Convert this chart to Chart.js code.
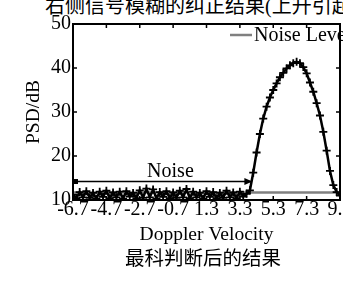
<!DOCTYPE html>
<html>
<head>
<meta charset="utf-8">
<script src="https://cdn.jsdelivr.net/npm/chart.js@4.4.1/dist/chart.umd.min.js"></script>
<style>
    html, body { margin: 0; padding: 0; background: #fff; width: 343px; height: 282px; overflow: hidden; }
    #wrap { position: absolute; left: 0; top: 0; width: 360px; height: 282px; }
    .heading { position: absolute; left: 45px; top: -4px; font-size: 20px; line-height: 20px; white-space: nowrap;
               font-family: "Liberation Serif", "Noto Sans CJK SC", serif; color: #000; }
    .caption { position: absolute; left: 125px; top: 247px; font-size: 19.5px; line-height: 20px; white-space: nowrap;
               font-family: "Noto Sans CJK SC", sans-serif; color: #000; }
</style>
</head>
<body>
<div class="heading">右侧信号模糊的纠正结果(上升引起</div>
<div id="wrap"><canvas id="myChart"></canvas></div>
<div class="caption">最科判断后的结果</div>
<script>
// Doppler velocity samples (x) and measured PSD in dB (y)
const velocity = [
    -6.7, -6.5, -6.3, -6.1, -5.9, -5.7, -5.5, -5.3, -5.1, -4.9,
    -4.7, -4.5, -4.3, -4.1, -3.9, -3.7, -3.5, -3.3, -3.1, -2.9,
    -2.7, -2.5, -2.3, -2.1, -1.9, -1.7, -1.5, -1.3, -1.1, -0.9,
    -0.7, -0.5, -0.3, -0.1, 0.1, 0.3, 0.5, 0.7, 0.9, 1.1,
    1.3, 1.5, 1.7, 1.9, 2.1, 2.3, 2.5, 2.7, 2.9, 3.1,
    3.3, 3.5, 3.7, 3.9, 4.1, 4.3, 4.5, 4.7, 4.9, 5.1,
    5.3, 5.5, 5.7, 5.9, 6.1, 6.3, 6.5, 6.7, 6.9, 7.1,
    7.3, 7.5, 7.7, 7.9, 8.1, 8.3, 8.5, 8.7, 8.9, 9.1,
    9.3
];
const psd = [
    11.2, 10.4, 11.8, 10.6, 12.0, 10.5, 11.6, 10.3, 11.9, 10.7,
    12.1, 10.4, 11.7, 10.6, 11.9, 10.3, 12.0, 10.8, 11.6, 10.4,
    12.2, 10.5, 12.6, 10.6, 12.4, 10.3, 11.8, 10.7, 12.0, 10.4,
    11.7, 10.5, 12.1, 10.6, 12.5, 10.4, 11.9, 10.6, 11.6, 10.3,
    12.0, 10.7, 11.8, 10.4, 11.6, 10.5, 12.1, 10.6, 11.7, 10.4,
    11.9, 10.8, 11.4, 12.2, 16.2, 20.8, 25.0, 28.5, 31.2, 33.3,
    35.0, 36.5, 37.9, 38.9, 39.9, 40.6, 41.1, 41.4, 41.1, 40.2,
    38.8, 36.7, 34.6, 32.0, 29.2, 25.5, 21.2, 16.6, 13.4, 11.8,
    11.0
];

// Noise level line and noise-region arrow
const noiseLevel = 11.7;
const noiseArrowFrom = -6.58;
const noiseArrowTo = 3.93;
const noiseArrowY = 14.2;
const noiseLabelX = -0.86;

// Axis ticks
const xMin = -6.7, xMax = 9.3;
const xTicks = [-6.7, -4.7, -2.7, -0.7, 1.3, 3.3, 5.3, 7.3, 9.3];
const yTicks = [10, 20, 30, 40, 50];

const serif = "'Liberation Serif', 'Times New Roman', serif";

// Frame, inward ticks, noise arrow and legend
const decorations = {
    id: "decorations",
    afterDatasetsDraw(chart) {
        const { ctx, chartArea: a, scales } = chart;
        const x = scales.x, y = scales.y;
        ctx.save();
        ctx.strokeStyle = "#000";
        ctx.lineWidth = 1.5;
        ctx.beginPath();
        xTicks.forEach(v => {
            const px = x.getPixelForValue(v);
            ctx.moveTo(px, a.bottom); ctx.lineTo(px, a.bottom - 4);
            ctx.moveTo(px, a.top); ctx.lineTo(px, a.top + 4);
        });
        yTicks.forEach(v => {
            const py = y.getPixelForValue(v);
            ctx.moveTo(a.left, py); ctx.lineTo(a.left + 4, py);
            ctx.moveTo(a.right, py); ctx.lineTo(a.right - 4, py);
        });
        ctx.stroke();

        ctx.lineWidth = 2;
        ctx.strokeRect(a.left, a.top, a.right - a.left, a.bottom - a.top);

        // noise arrow
        const ay = y.getPixelForValue(noiseArrowY);
        const ax0 = x.getPixelForValue(noiseArrowFrom);
        const ax1 = x.getPixelForValue(noiseArrowTo);
        ctx.lineWidth = 1.5;
        ctx.beginPath();
        ctx.moveTo(ax0, ay);
        ctx.lineTo(ax1, ay);
        ctx.stroke();
        ctx.fillStyle = "#000";
        ctx.fillRect(ax0 - 2, ay - 2.5, 5, 5);
        ctx.beginPath();
        ctx.moveTo(ax1 + 2, ay);
        ctx.lineTo(ax1 - 6, ay - 3.5);
        ctx.lineTo(ax1 - 6, ay + 3.5);
        ctx.closePath();
        ctx.fill();

        ctx.font = "20px " + serif;
        ctx.textAlign = "center";
        ctx.textBaseline = "middle";
        ctx.fillText("Noise", x.getPixelForValue(noiseLabelX), ay - 10);

        // legend
        ctx.strokeStyle = "#808080";
        ctx.lineWidth = 2.5;
        ctx.beginPath();
        ctx.moveTo(a.right - 110, a.top + 11);
        ctx.lineTo(a.right - 88, a.top + 11);
        ctx.stroke();
        ctx.textAlign = "left";
        ctx.fillText("Noise Level", a.right - 86, a.top + 12);
        ctx.restore();
    }
};

let chartInstance = null;

function initChart() {
    const ctx = document.getElementById("myChart");
    if (!ctx) return;

    const spectrum = velocity.map((v, i) => ({ x: v, y: psd[i] }));
    const level = [{ x: xMin, y: noiseLevel }, { x: xMax, y: noiseLevel }];

    chartInstance = new Chart(ctx, {
        type: "line",
        data: {
            datasets: [
                {
                    label: "PSD",
                    data: spectrum,
                    borderColor: "#000",
                    borderWidth: 2.5,
                    pointStyle: "cross",
                    pointRadius: 4,
                    pointBorderWidth: 1.8,
                    pointBorderColor: "#000",
                    tension: 0,
                },
                {
                    label: "Noise Level",
                    data: level,
                    borderColor: "#808080",
                    borderWidth: 2.5,
                    pointRadius: 0,
                },
            ],
        },
        options: {
            responsive: true,
            maintainAspectRatio: false,
            animation: false,
            devicePixelRatio: 1,
            layout: { padding: { top: 24, right: 20, left: 0, bottom: 0 } },
            plugins: {
                legend: { display: false },
                tooltip: { enabled: false },
            },
            scales: {
                x: {
                    type: "linear",
                    min: xMin,
                    max: xMax,
                    grid: { display: false, drawTicks: false },
                    border: { display: false },
                    afterBuildTicks: (scale) => {
                        scale.ticks = xTicks.map(v => ({ value: v }));
                    },
                    afterFit: (scale) => { scale.height = 82; },
                    ticks: {
                        autoSkip: false,
                        maxRotation: 0,
                        padding: -2,
                        color: "#000",
                        font: { family: serif, size: 20 },
                        callback: (v) => Number(v).toFixed(1),
                    },
                    title: {
                        display: true,
                        text: "Doppler Velocity",
                        color: "#000",
                        font: { family: serif, size: 19.5 },
                        padding: { top: 0, bottom: 35 },
                    },
                },
                y: {
                    min: 10,
                    max: 50,
                    grid: { display: false, drawTicks: false },
                    border: { display: false },
                    afterBuildTicks: (scale) => {
                        scale.ticks = yTicks.map(v => ({ value: v }));
                    },
                    afterFit: (scale) => { scale.width = 73; },
                    ticks: {
                        padding: 2,
                        color: "#000",
                        font: { family: serif, size: 20 },
                    },
                    title: {
                        display: true,
                        text: "PSD/dB",
                        color: "#000",
                        font: { family: serif, size: 19.5 },
                        padding: { top: 22, bottom: 0 },
                    },
                },
            },
        },
        plugins: [decorations],
    });

    return chartInstance;
}

initChart();
</script>
</body>
</html>
